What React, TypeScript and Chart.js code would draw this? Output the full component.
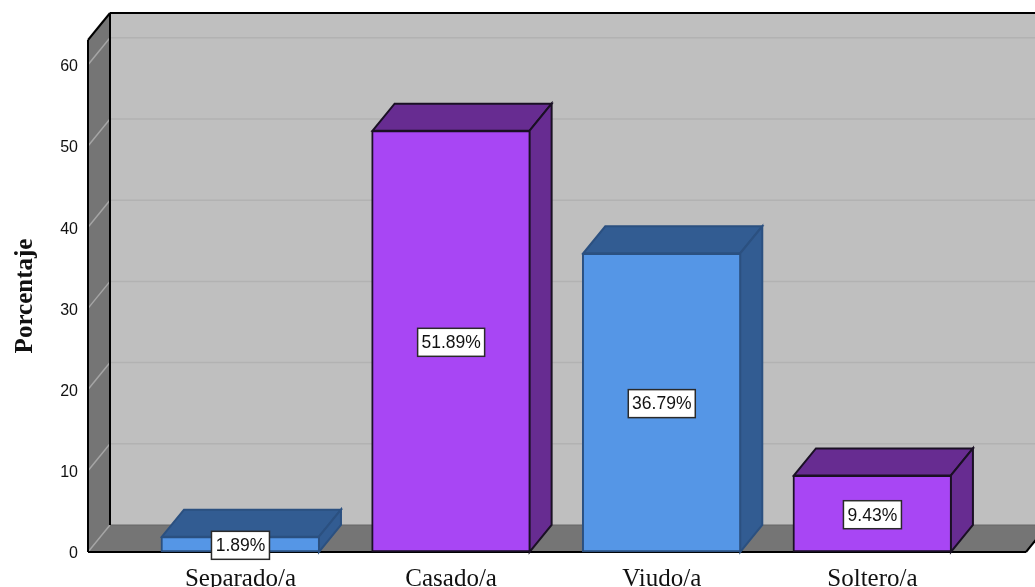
import React, { useEffect, useRef } from "react";
import { Chart, registerables } from "chart.js";

Chart.register(...registerables);

const categories = ["Separado/a", "Casado/a", "Viudo/a", "Soltero/a"];
const values = [1.89, 51.89, 36.79, 9.43];
const frontColors = ["#5596E6", "#A846F4", "#5596E6", "#A846F4"];
const darkColors = ["#325C92", "#672C91", "#325C92", "#672C91"];
const edgeColors = ["#2B5080", "#1A1024", "#2B5080", "#1A1024"];
const yTicks = [0, 10, 20, 30, 40, 50, 60];

const DX = 22;
const DY = -27;

const poly = (ctx: CanvasRenderingContext2D, pts: number[][], fill: string, stroke?: string, lw = 2) => {
  ctx.beginPath();
  pts.forEach((p, i) => (i ? ctx.lineTo(p[0], p[1]) : ctx.moveTo(p[0], p[1])));
  ctx.closePath();
  ctx.fillStyle = fill;
  ctx.fill();
  if (stroke) {
    ctx.strokeStyle = stroke;
    ctx.lineWidth = lw;
    ctx.stroke();
  }
};

const line = (ctx: CanvasRenderingContext2D, x1: number, y1: number, x2: number, y2: number, c: string, w: number) => {
  ctx.beginPath();
  ctx.moveTo(x1, y1);
  ctx.lineTo(x2, y2);
  ctx.strokeStyle = c;
  ctx.lineWidth = w;
  ctx.stroke();
};

const box3d = {
  id: "box3d",
  beforeDatasetsDraw(chart: any) {
    const { ctx, chartArea: a, scales } = chart;
    const { left: l, right: r, top: t, bottom: b } = a;
    ctx.save();
    poly(ctx, [[l + DX, t + DY], [r + DX, t + DY], [r + DX, b + DY], [l + DX, b + DY]], "#BFBFBF");
    poly(ctx, [[l, t], [l + DX, t + DY], [l + DX, b + DY], [l, b]], "#757575");
    poly(ctx, [[l, b], [l + DX, b + DY], [r + DX, b + DY], [r, b]], "#757575");
    yTicks.slice(1).forEach((v) => {
      const y = scales.y.getPixelForValue(v);
      line(ctx, l + DX, y + DY, r + DX, y + DY, "#B2B2B2", 1.5);
      line(ctx, l, y, l + DX, y + DY, "#A5A5A5", 1.5);
    });
    line(ctx, l, b, l + DX, b + DY, "#A5A5A5", 1.5);
    line(ctx, l + DX, b + DY, r + DX, b + DY, "#666666", 1);
    line(ctx, l, t, l + DX, t + DY, "#000", 2);
    line(ctx, l + DX, t + DY, r + DX, t + DY, "#000", 2);
    line(ctx, l + DX, t + DY, l + DX, b + DY, "#000", 2);
    line(ctx, l, t, l, b, "#000", 2);
    line(ctx, l, b, r, b, "#000", 2);
    line(ctx, r, b, r + DX, b + DY, "#000", 2);
    ctx.restore();
  },
  afterDatasetsDraw(chart: any) {
    const { ctx } = chart;
    const bars = chart.getDatasetMeta(0).data;
    ctx.save();
    ctx.lineJoin = "miter";
    bars.forEach((bar: any, i: number) => {
      const { x, y, base, width } = bar.getProps(["x", "y", "base", "width"], true);
      const x0 = x - width / 2 + 1;
      const x1 = x + width / 2 - 1;
      poly(ctx, [[x0, y], [x0 + DX, y + DY], [x1 + DX, y + DY], [x1, y]], darkColors[i], edgeColors[i], 2);
      poly(ctx, [[x1, y], [x1 + DX, y + DY], [x1 + DX, base + DY], [x1, base]], darkColors[i], edgeColors[i], 2);
    });
    ctx.font = '17.5px "Liberation Sans"';
    ctx.textAlign = "center";
    ctx.textBaseline = "middle";
    bars.forEach((bar: any, i: number) => {
      const { x, y, base } = bar.getProps(["x", "y", "base"], true);
      const cy = (y + base) / 2 + 1;
      const label = `${values[i].toFixed(2)}%`;
      const w = Math.round(ctx.measureText(label).width) + 8;
      const h = 28;
      ctx.fillStyle = "#FFFFFF";
      ctx.fillRect(x - w / 2, cy - h / 2, w, h);
      ctx.strokeStyle = "#2A2A2A";
      ctx.lineWidth = 1.5;
      ctx.strokeRect(x - w / 2, cy - h / 2, w, h);
      ctx.fillStyle = "#111111";
      ctx.fillText(label, x, cy + 1);
    });
    ctx.restore();
  },
};

export default function App() {
  const ref = useRef<HTMLCanvasElement>(null);
  useEffect(() => {
    document.body.style.margin = "0";
    const chart = new Chart(ref.current!, {
      type: "bar",
      plugins: [box3d],
      data: {
        datasets: [
          {
            data: values.map((v, i) => ({ x: i, y: v })),
            backgroundColor: frontColors,
            borderColor: edgeColors,
            borderWidth: 2,
            borderSkipped: false,
            barThickness: 159,
            clip: false,
          } as any,
        ],
      },
      options: {
        responsive: false,
        animation: false,
        layout: { padding: { top: 40, right: 9, left: 0, bottom: 0 } },
        plugins: { legend: { display: false }, tooltip: { enabled: false } },
        scales: {
          x: {
            type: "linear",
            offset: false,
            min: -0.7238,
            max: 3.729,
            grid: { display: false },
            border: { display: false },
            afterFit: (s: any) => {
              s.height = 35;
            },
            ticks: {
              stepSize: 1,
              includeBounds: false,
              autoSkip: false,
              maxRotation: 0,
              padding: 4,
              color: "#111111",
              font: { family: '"Liberation Serif"', size: 25 },
              callback: (v: any) => categories[v] ?? "",
            },
          },
          y: {
            min: 0,
            max: 63.05,
            grid: { display: false },
            border: { display: false },
            afterFit: (s: any) => {
              s.width = 88;
            },
            title: {
              display: true,
              text: "Porcentaje",
              color: "#111111",
              font: { family: '"Liberation Serif"', size: 25, weight: "bold" },
              padding: { top: 11, bottom: 0 },
            },
            ticks: {
              stepSize: 10,
              includeBounds: false,
              padding: 2,
              labelOffset: 2,
              color: "#111111",
              font: { family: '"Liberation Sans"', size: 16 },
            },
          },
        },
      },
    } as any);
    return () => chart.destroy();
  }, []);
  return <canvas ref={ref} width={1035} height={587} style={{ display: "block" }} />;
}
